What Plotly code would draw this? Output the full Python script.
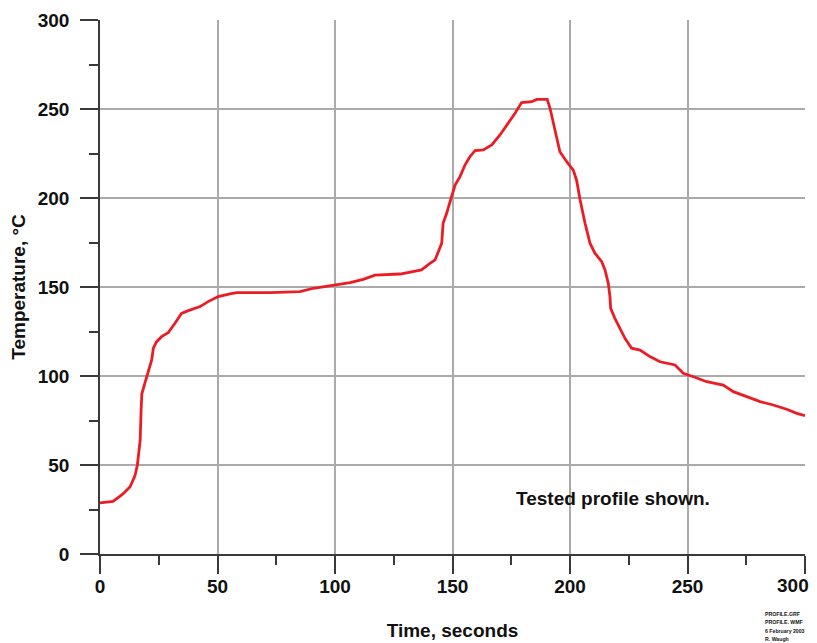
import plotly.graph_objects as go

time_s = [0, 4, 5.5, 8, 10, 12.8, 14.9, 15.9, 16.7, 17.1, 17.5, 17.8, 19.1, 20.6, 22, 22.7,
          24.1, 26.2, 29, 31.9, 34.7, 37.6, 42.6, 46, 50.3, 55.3, 58.2, 72.3, 85.1, 90.8,
          100, 106.4, 112, 117, 127.7, 133.3, 136.8, 140.4, 142.6, 144, 145.4, 146, 147.5,
          149.6, 151.1, 153.2, 155.3, 157.4, 159.6, 163.1, 166.7, 170.2, 173.7, 176.6,
          179.4, 183.7, 185.8, 190.3, 191.5, 192.9, 194.3, 195.7, 198.6, 201.4, 202.8,
          204.3, 206.4, 208.5, 210.6, 213.5, 214.9, 216.3, 217, 217.3, 219.1, 221.3, 223.4,
          226.2, 229.8, 234, 238.3, 244.7, 248.2, 252.5, 258.2, 265.2, 269.5, 275.2, 280.9,
          286.5, 292.2, 296.5, 300]
temp_c = [28.7, 29, 29.5, 32, 34, 37.8, 44, 50, 60, 64, 81, 90, 96, 103.4, 109, 115.6,
          119.3, 122.1, 124.3, 129.6, 135.2, 136.7, 139, 141.8, 144.6, 146.1, 146.8, 146.8,
          147.4, 149.3, 151.1, 152.4, 154.3, 156.7, 157.3, 158.6, 159.6, 163.3, 165.2, 170,
          174.5, 185.8, 191.4, 200.7, 207.3, 212, 218.5, 223.2, 226.6, 227, 229.8, 235.4,
          242, 247.6, 253.6, 254.1, 255.4, 255.4, 250.4, 242, 234.4, 226, 220.4, 215.7, 210,
          198.9, 185.8, 174.6, 169, 164.2, 159.6, 152, 144.6, 138, 132.4, 126.8, 121.2,
          115.6, 114.6, 110.9, 108, 106.2, 101.5, 99.6, 96.8, 94.9, 91.2, 88.4, 85.6, 83.7,
          81.3, 79, 77.7]

x_ticks = [0, 50, 100, 150, 200, 250, 300]
y_ticks = [0, 50, 100, 150, 200, 250, 300]
x_title = "Time, seconds"
y_title = "Temperature, °C"
note = "Tested profile shown."
footer = ["PROFILE.GRF", "PROFILE. WMF", "6 February 2003", "R. Waugh"]

FONT = "Liberation Sans, Arial, sans-serif"
INK = "#111111"
TICKFONT = dict(family=FONT, size=19, color=INK, weight="bold")

fig = go.Figure()
fig.add_trace(go.Scatter(x=time_s, y=temp_c, mode="lines",
                         line=dict(color="#ec1c24", width=2.8), showlegend=False,
                         hoverinfo="skip"))

def axis_style(label_standoff, title_text, title_standoff):
    return dict(
        range=[0, 300], automargin=False,
        showline=True, linecolor="#3a3a3a", linewidth=1.5,
        showgrid=True, gridcolor="#aaaaaa", gridwidth=1.5,
        zeroline=False, ticks="outside", ticklen=18, tickwidth=1.5, tickcolor="#3a3a3a",
        tickfont=TICKFONT,
        ticklabelstandoff=label_standoff, ticklabeloverflow="allow",
        minor=dict(ticks="outside", ticklen=9, tickwidth=1.5, tickcolor="#3a3a3a",
                   dtick=25, showgrid=False),
        title=dict(text=title_text, standoff=title_standoff,
                   font=dict(family=FONT, size=19, color=INK, weight="bold")),
    )

# the last x label is drawn just left of its tick so it stays inside the window
x_ticktext = [str(v) for v in x_ticks[:-1]] + [""]

fig.update_xaxes(tickmode="array", tickvals=x_ticks, ticktext=x_ticktext,
                 **axis_style(-4, x_title, 28))
fig.update_yaxes(tickmode="array", tickvals=y_ticks, ticktext=[str(v) for v in y_ticks],
                 **axis_style(7, y_title, 7))

fig.add_annotation(x=x_ticks[-1], y=-0.0599, xref="x", yref="paper", xshift=-12,
                   yanchor="middle", text=str(x_ticks[-1]), showarrow=False, font=TICKFONT)

fig.add_annotation(x=218.3, y=31, xref="x", yref="y", text=note,
                   showarrow=False, font=dict(family=FONT, size=19, color=INK, weight="bold"))

for i, line in enumerate(footer):
    fig.add_annotation(x=0.940, y=-0.1124 - i * 0.0155, xref="paper", yref="paper",
                       xanchor="left", yanchor="middle", text=line,
                       showarrow=False,
                       font=dict(family=FONT, size=5.2, color=INK, weight="bold"))

# page body has an 8px margin, so the figure is sized to fit the 817x643 window
fig.update_layout(
    width=809, height=635,
    margin=dict(l=92, r=12, t=12, b=89, autoexpand=False),
    paper_bgcolor="white", plot_bgcolor="white",
    font=dict(family=FONT, color=INK),
)

fig.write_html("out.html")
